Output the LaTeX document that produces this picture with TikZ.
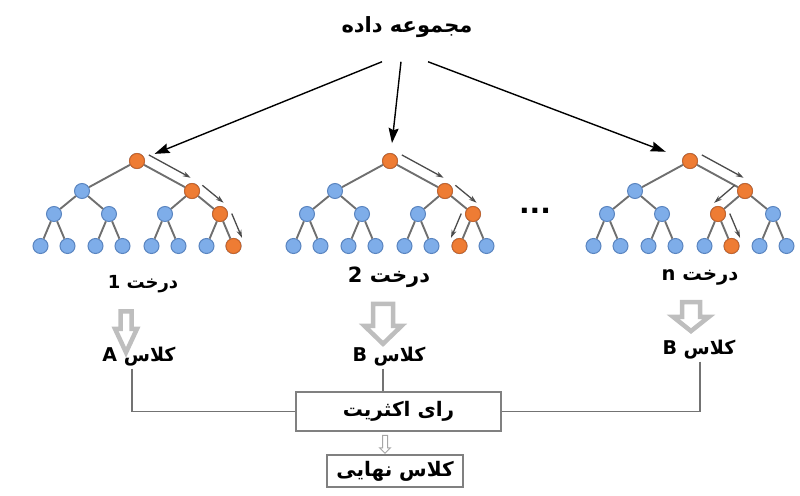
\documentclass[tikz,border=0pt]{standalone}
\usepackage{fontspec}
\usepackage{xcolor}
\usepackage{tikz}
\usetikzlibrary{shapes,arrows.meta,positioning,calc}
\TeXXeTstate=1
\newfontfamily\fa[Script=Arabic]{DejaVu Sans}
\newcommand{\fatext}[1]{{\fa\bfseries\beginR #1\endR}}

\definecolor{nodeblue}{HTML}{7EADE9}
\definecolor{nodeblueline}{HTML}{5A85C0}
\definecolor{nodeorange}{HTML}{EE7C34}
\definecolor{nodeorangeline}{HTML}{C8652A}
\definecolor{edgegray}{HTML}{6F6F6F}
\definecolor{blockgray}{HTML}{BEBEBE}

\tikzset{
    dot/.style={circle, minimum size=15pt, inner sep=0pt, fill=nodeblue, draw=nodeblueline, line width=1pt},
    hotdot/.style={fill=nodeorange, draw=nodeorangeline},
    edge/.style={draw=edgegray, line width=1.9pt},
    walk/.style={draw=black!70, line width=1.3pt, -{Stealth[length=8pt,width=5pt]}},
    feed/.style={draw=black, line width=1.4pt, -{Stealth[length=15pt,width=10pt,inset=2pt]}},
    lbl/.style={inner sep=2pt},
    bigdown/.style={single arrow, shape border rotate=270, draw=blockgray, fill=white, line width=4.5pt},
    votebox/.style={draw=black!50, line width=1.4pt, fill=white, font=\fontsize{20}{24}\selectfont},
    joinline/.style={draw=black!55, line width=1.3pt}
}

\begin{document}
\begin{tikzpicture}[x=1pt, y=-1pt]
    \useasboundingbox (0,0) rectangle (800,495);

    % Trees
    \foreach \k/\xr in {1/137, 2/390, 3/690} {
        \foreach \i/\dx/\yy in {0/0/161, 1/-55/191, 2/55/191, 3/-83/214, 4/-28/214, 5/28/214, 6/83/214,
                                7/-96.5/246, 8/-69.5/246, 9/-41.5/246, 10/-14.5/246, 11/14.5/246, 12/41.5/246, 13/69.5/246, 14/96.5/246}
            \node[dot] (t\k-\i) at (\xr+\dx,\yy) {};
        \foreach \p/\c in {0/1, 0/2, 1/3, 1/4, 2/5, 2/6, 3/7, 3/8, 4/9, 4/10, 5/11, 5/12, 6/13, 6/14}
            \draw[edge] (t\k-\p) -- (t\k-\c);
    }
    % Chosen paths
    \foreach \k/\hot in {1/{0,2,6,14}, 2/{0,2,6,13}, 3/{0,2,5,12}}
        \foreach \i in \hot
            \node[dot, hotdot] (h\k-\i) at (t\k-\i) {};
    \foreach \a/\b/\s in {t1-0/t1-2/90, t1-2/t1-6/90, t1-6/t1-14/90,
                          t2-0/t2-2/90, t2-2/t2-6/90, t2-6/t2-13/-90,
                          t3-0/t3-2/90, t3-2/t3-5/-90, t3-5/t3-12/90}
        \draw[walk] ($(\a)!0.12!(\b)!11pt!\s:(\b)$) -- ($(\a)!0.88!(\b)!11pt!\s:(\b)$);

    % Labels
    \node[lbl, font=\fontsize{21}{25}\selectfont] (data) at (407,27) {\fatext{مجموعه داده}};
    \node[lbl, font=\fontsize{18}{22}\selectfont] (tree1) at (143,284) {\fatext{درخت 1}};
    \node[lbl, font=\fontsize{21}{25}\selectfont] (tree2) at (389,277) {\fatext{درخت 2}};
    \node[lbl, font=\fontsize{19.5}{23}\selectfont] (tree3) at (700,277) {\fatext{درخت n}};
    \node[lbl, font=\fontsize{28}{30}\selectfont\fa\bfseries] (dots) at (535,211) {...};
    \node[lbl, font=\fontsize{19}{23}\selectfont] (cls1) at (139,357) {\fatext{کلاس A}};
    \node[lbl, font=\fontsize{19}{23}\selectfont] (cls2) at (389,357) {\fatext{کلاس B}};
    \node[lbl, font=\fontsize{19}{23}\selectfont] (cls3) at (699,350) {\fatext{کلاس B}};
    \node[votebox, minimum width=205pt, minimum height=39pt] (vote) at (398.5,411.5) {\fatext{رای اکثریت}};
    \node[votebox, minimum width=136pt, minimum height=32pt] (final) at (395,471) {\fatext{کلاس نهایی}};

    % Block arrows
    \node[bigdown, inner sep=3.25pt, single arrow head extend=5.5pt, single arrow tip angle=50, minimum height=41pt] (g1) at (126,326) {};
    \node[bigdown, inner sep=7.75pt, single arrow head extend=8.5pt, single arrow tip angle=92, minimum height=40pt] (g2) at (383,319) {};
    \node[bigdown, inner sep=6.75pt, single arrow head extend=9pt, single arrow tip angle=103, minimum height=29pt] (g3) at (691,313) {};
    \node[bigdown, draw=black!35, line width=1pt, inner sep=2pt, single arrow head extend=3pt, single arrow tip angle=90, minimum height=18pt] (g4) at (385,443) {};

    % Arrows
    \coordinate (s1) at ($(data.south)+(-25,22)$);
    \coordinate (s2) at ($(data.south)+(-6,22)$);
    \coordinate (s3) at ($(data.south)+(21,22)$);
    \draw[feed, shorten >=11pt] (s1) -- (t1-0);
    \draw[feed, shorten >=10pt] (s2) -- (t2-0);
    \draw[feed, shorten >=18pt] (s3) -- (t3-0);

    % Voting lines
    \coordinate (m1) at ([xshift=-7pt]cls1.south);
    \coordinate (m2) at ([xshift=-6pt]cls2.south);
    \coordinate (m3) at ([xshift=1pt]cls3.south);
    \draw[joinline] (m1) |- (vote.west);
    \draw[joinline] (m2) -- (m2 |- vote.north);
    \draw[joinline] (m3) |- (vote.east);
\end{tikzpicture}
\end{document}
